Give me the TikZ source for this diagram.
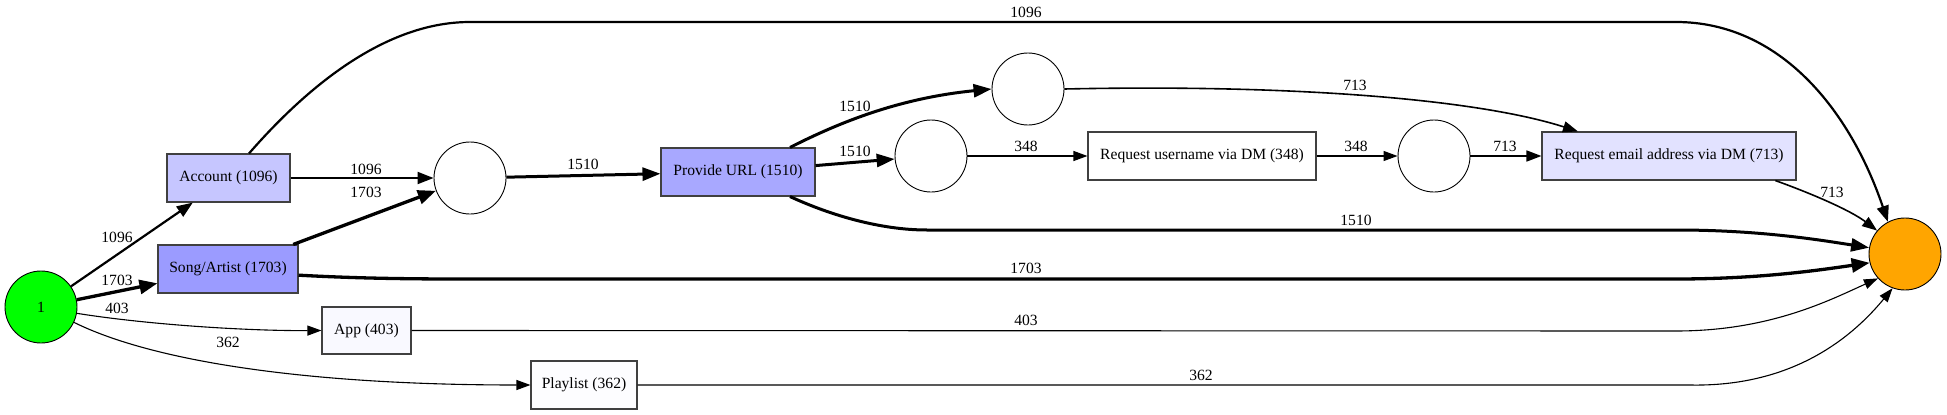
\documentclass[tikz,border=0pt]{standalone}
\usepackage{fontspec}
\setmainfont{Liberation Serif}
\usetikzlibrary{arrows.meta}
\definecolor{cstart}{RGB}{0,255,0}
\definecolor{cend}{RGB}{255,165,0}
\definecolor{cacc}{RGB}{198,198,255}
\definecolor{csong}{RGB}{155,155,255}
\definecolor{curl}{RGB}{168,168,255}
\definecolor{cmail}{RGB}{226,226,255}
\definecolor{capp}{RGB}{249,249,255}
\definecolor{cplay}{RGB}{253,253,255}
\begin{document}
\begin{tikzpicture}[x=1pt,y=-1pt,
 every node/.style={font=\fontsize{15.6}{18}\selectfont},
 act/.style={draw=black!75, line width=1.1pt, rectangle, minimum height=48pt, inner sep=0pt},
 ring/.style={draw=black, circle, minimum size=72pt, inner sep=0pt, line width=0.9pt},
 wA/.style={line width=3.3pt, -{Triangle[length=18pt,width=14pt]}},
 wB/.style={line width=3pt, -{Triangle[length=18pt,width=13pt]}},
 wC/.style={line width=2.2pt, -{Triangle[length=16pt,width=12pt]}},
 wD/.style={line width=1.6pt, -{Triangle[length=15pt,width=11pt]}},
 wE/.style={line width=1.1pt, -{Triangle[length=14pt,width=10pt]}},
 lab/.style={inner sep=0pt}
]
\useasboundingbox (0,0) rectangle (1947,415);
% nodes
\node[ring, fill=cstart] (start) at (41,307) {1};
\node[ring, fill=cend] (end) at (1905,254) {};
\node[act, fill=cacc, minimum width=123pt] (acc) at (228.5,178) {Account (1096)};
\node[act, fill=csong, minimum width=140pt] (song) at (228,269) {Song/Artist (1703)};
\node[act, fill=capp, minimum width=89pt, minimum height=47pt] (app) at (366.5,330.5) {App (403)};
\node[act, fill=cplay, minimum width=106pt] (play) at (584,385) {Playlist (362)};
\node[ring] (a) at (470,178) {};
\node[act, fill=curl, minimum width=154pt] (url) at (738,172) {Provide URL (1510)};
\node[ring] (c) at (1028,89) {};
\node[ring] (b) at (931,156) {};
\node[act, fill=white, minimum width=228pt] (user) at (1202,156) {Request username via DM (348)};
\node[ring] (d) at (1434,156) {};
\node[act, fill=cmail, minimum width=254pt] (mail) at (1669,156) {Request email address via DM (713)};
% edges
\draw[wC] (start) -- (acc);
\draw[wA] (start) -- (song);
\draw[wE] (start.-10) .. controls (150,325) and (250,331) .. (app.west);
\draw[wE] (start.-25) .. controls (150,360) and (300,385) .. (play.west);
\draw[wC] (acc) -- (a);
\draw[wA] (song) -- (a);
\draw[wB] (a) -- (url);
\draw[wB] (url) -- (b);
\draw[wB] ([xshift=52pt]url.north) .. controls (840,122) and (900,98) .. (c.west);
\draw[wE] (b) -- (user);
\draw[wE] (user) -- (d);
\draw[wD] (d) -- (mail);
\draw[wD] (c.east) .. controls (1300,84) and (1480,100) .. ([xshift=-91pt]mail.north);
\draw[wD] (mail.-13.5) .. controls (1810,193) and (1850,210) .. (end.140);
\draw[wC] ([xshift=20.5pt]acc.north) .. controls (300,95) and (380,22) .. (470,22) -- (1676,22) .. controls (1780,22) and (1850,110) .. (end.118);
\draw[wB] ([xshift=52pt]url.south) .. controls (830,215) and (880,230) .. (927,230) -- (1676,230) .. controls (1760,230) and (1820,240) .. (end.170);
\draw[wA] (song.-5) .. controls (350,278) and (400,279) .. (460,279) -- (1676,279) .. controls (1760,279) and (1820,270) .. (end.194);
\draw[wE] (app.east) -- (1676,331) .. controls (1770,331) and (1830,300) .. (end.222);
\draw[wE] (play.east) -- (1690,385) .. controls (1790,387) and (1850,340) .. (end.250);
% labels
\node[lab] (l1) at (117,237) {1096};
\node[lab] (l2) at (117,280) {1703};
\node[lab] (l3) at (117,308) {403};
\node[lab] (l4) at (228,342) {362};
\node[lab] (l5) at (366,169) {1096};
\node[lab] (l6) at (366,192) {1703};
\node[lab] (l7) at (583,164) {1510};
\node[lab] (l8) at (855,106) {1510};
\node[lab] (l9) at (855,151) {1510};
\node[lab] (l10) at (1026,146) {348};
\node[lab] (l11) at (1356,146) {348};
\node[lab] (l12) at (1505,146) {713};
\node[lab] (l13) at (1355,85) {713};
\node[lab] (l14) at (1832,192) {713};
\node[lab] (l15) at (1026,12) {1096};
\node[lab] (l16) at (1356,220) {1510};
\node[lab] (l17) at (1026,268) {1703};
\node[lab] (l18) at (1026,320) {403};
\node[lab] (l19) at (1201,375) {362};
\end{tikzpicture}
\end{document}
